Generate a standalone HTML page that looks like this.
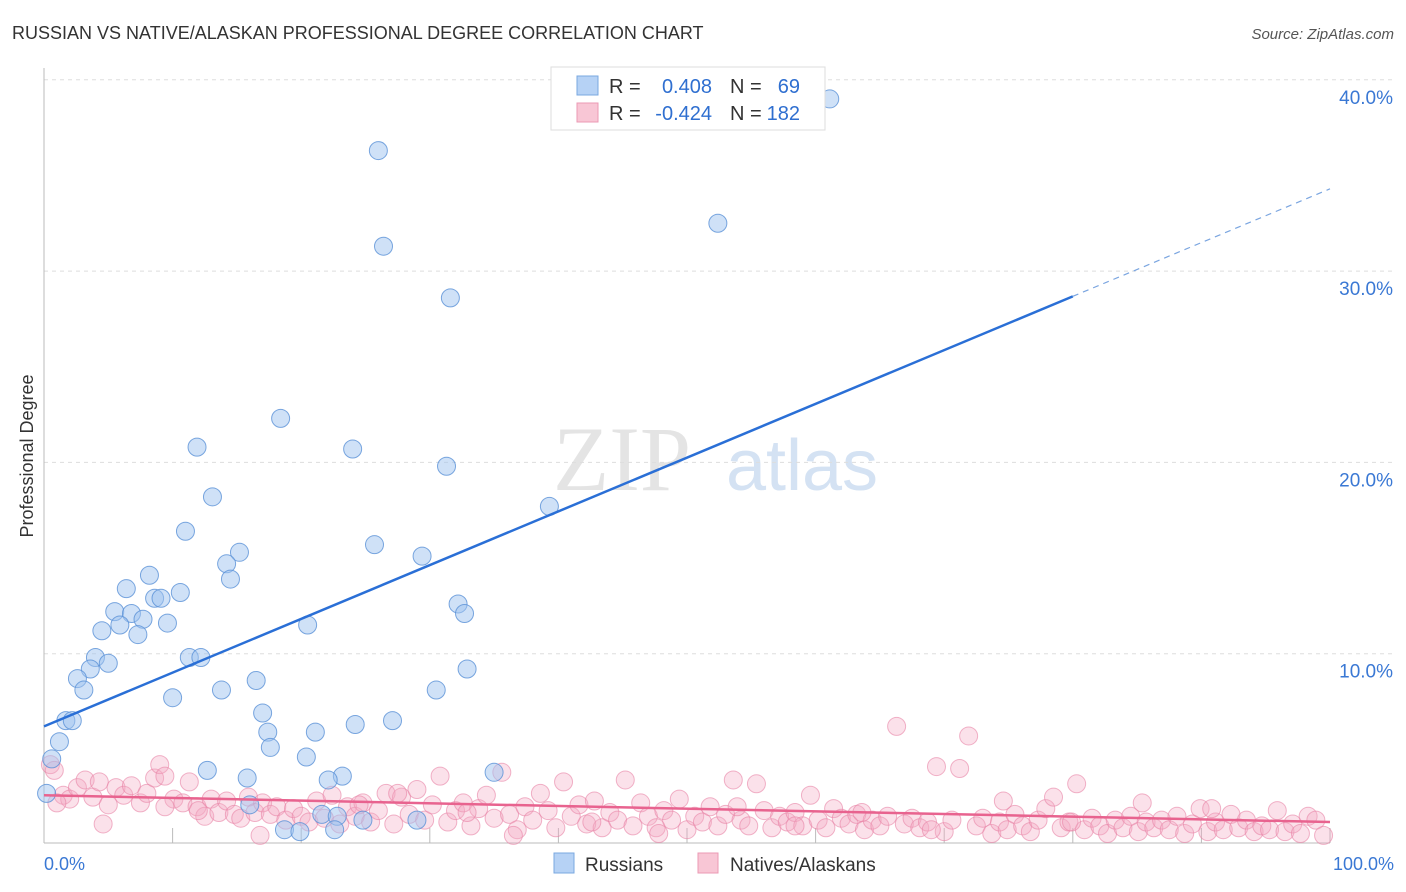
<!DOCTYPE html>
<html><head><meta charset="utf-8"><style>
body{margin:0;background:#fff;font-family:"Liberation Sans",sans-serif;}
#wrap{position:relative;width:1406px;height:892px;overflow:hidden;}
</style></head><body>
<div id="wrap">
<svg id="chart" width="1406" height="892" xmlns="http://www.w3.org/2000/svg">
<text x="12" y="39" font-size="18" fill="#333">RUSSIAN VS NATIVE/ALASKAN PROFESSIONAL DEGREE CORRELATION CHART</text>
<text x="1394" y="39" font-size="15" fill="#555" font-style="italic" text-anchor="end">Source: ZipAtlas.com</text>
<text x="0" y="0" transform="translate(33,456) rotate(-90)" font-size="18" fill="#333" text-anchor="middle">Professional Degree</text>
<g>
<text x="622" y="490" font-size="92" fill="#e4e4e4" font-family="Liberation Serif,serif" text-anchor="middle">ZIP</text>
<text x="802" y="490" font-size="72" fill="#d4e2f3" text-anchor="middle">atlas</text>
</g>
<g id="grid"></g>
<g id="axes"></g>
<g id="pinkPts"></g>
<g id="bluePts"></g>
<g id="lines"></g>
<g>
<rect x="551" y="67" width="274" height="63" fill="#fff" stroke="#ddd"/>
<rect x="577" y="76" width="21" height="19" fill="#b6d2f5" stroke="#7aa8e0"/>
<rect x="577" y="103" width="21" height="19" fill="#f8c6d5" stroke="#eb9ab4"/>
<text x="609" y="93" font-size="20" fill="#333">R =</text>
<text x="712" y="93" font-size="20" fill="#2f6fd0" text-anchor="end">0.408</text>
<text x="730" y="93" font-size="20" fill="#333">N =</text>
<text x="800" y="93" font-size="20" fill="#2f6fd0" text-anchor="end">69</text>
<text x="609" y="120" font-size="20" fill="#333">R =</text>
<text x="712" y="120" font-size="20" fill="#2f6fd0" text-anchor="end">-0.424</text>
<text x="730" y="120" font-size="20" fill="#333">N =</text>
<text x="800" y="120" font-size="20" fill="#2f6fd0" text-anchor="end">182</text>
</g>
<g>
<rect x="554" y="853" width="20" height="20" fill="#b6d2f5" stroke="#7aa8e0"/>
<text x="585" y="871" font-size="19" fill="#333">Russians</text>
<rect x="698" y="853" width="20" height="20" fill="#f8c6d5" stroke="#eb9ab4"/>
<text x="730" y="871" font-size="19" fill="#333">Natives/Alaskans</text>
</g>
</svg>
</div>
<script>
const yTicks=[10,20,30,40];
const yTickLabels=["10.0%","20.0%","30.0%","40.0%"];
const xLabels=["0.0%","100.0%"];
const blueX=[61.1,26.0,26.4,52.4,31.6,18.4,11.9,24.0,31.3,13.1,39.3,11.0,25.7,15.2,29.4,14.2,8.2,14.5,6.4,10.6,8.6,9.1,32.2,5.5,6.8,32.7,7.7,5.9,9.6,20.5,4.5,7.3,4.0,11.3,12.2,5.0,3.6,32.9,2.6,16.5,3.1,13.8,30.5,10.0,17.0,1.7,2.2,27.1,24.2,21.1,17.4,1.2,17.6,20.4,0.6,12.7,23.2,15.8,22.1,35.0,0.2,16.0,21.6,22.8,24.8,29.0,18.7,19.9,22.6];
const blueY=[39.0,36.3,31.3,32.5,28.6,22.3,20.8,20.7,19.8,18.2,17.7,16.4,15.7,15.3,15.1,14.7,14.1,13.9,13.4,13.2,12.9,12.9,12.6,12.2,12.1,12.1,11.8,11.5,11.6,11.5,11.2,11.0,9.8,9.8,9.8,9.5,9.2,9.2,8.7,8.6,8.1,8.1,8.1,7.7,6.9,6.5,6.5,6.5,6.3,5.9,5.9,5.4,5.1,4.6,4.5,3.9,3.6,3.5,3.4,3.8,2.7,2.1,1.6,1.5,1.3,1.3,0.8,0.7,0.8];
const pinkX=[0.5,0.8,1.5,2.0,2.6,3.2,3.8,4.3,5.0,5.6,6.2,6.8,7.5,8.0,8.6,9.0,9.4,10.1,10.8,11.3,11.9,12.5,13.0,13.6,14.2,14.8,15.3,15.9,16.4,17.0,17.6,18.1,18.8,19.4,20.0,20.6,21.2,21.8,22.4,23.0,23.6,24.2,24.8,25.4,26.0,26.6,27.2,27.8,28.4,29.0,29.6,30.2,30.8,31.4,32.0,32.6,33.2,33.8,34.4,35.0,35.6,36.2,36.8,37.4,38.0,38.6,39.2,39.8,40.4,41.0,41.6,42.2,42.8,43.4,44.0,44.6,45.2,45.8,46.4,47.0,47.6,48.2,48.8,49.4,50.0,50.6,51.2,51.8,52.4,53.0,53.6,54.2,54.8,55.4,56.0,56.6,57.2,57.8,58.4,59.0,59.6,60.2,60.8,61.4,62.0,62.6,63.2,63.8,64.4,65.0,65.6,66.3,66.9,67.5,68.1,68.7,69.4,70.0,70.6,71.2,71.9,72.5,73.0,73.7,74.3,74.9,75.5,76.1,76.7,77.3,77.9,78.5,79.1,79.7,80.3,80.9,81.5,82.1,82.7,83.3,83.9,84.5,85.1,85.7,86.3,86.9,87.5,88.1,88.7,89.3,89.9,90.5,91.1,91.7,92.3,92.9,93.5,94.1,94.7,95.3,95.9,96.5,97.1,97.7,98.3,98.9,99.5,1.0,4.6,9.4,12.0,16.8,24.5,27.5,32.9,36.5,42.6,47.8,53.9,58.4,63.6,69.0,74.6,79.9,85.4,90.8,96.0];
const pinkY=[4.2,3.9,2.6,2.4,3.0,3.4,2.5,3.3,2.1,3.0,2.6,3.1,2.2,2.7,3.5,4.2,3.6,2.4,2.2,3.3,2.0,1.5,2.4,1.7,2.3,1.6,1.4,2.5,1.7,2.2,1.6,2.0,1.3,1.9,1.5,1.2,2.3,1.4,2.6,1.1,2.0,1.5,2.2,1.2,1.8,2.7,1.1,2.5,1.6,2.9,1.3,2.1,3.6,1.2,1.8,2.2,1.0,1.9,2.6,1.4,3.8,1.6,0.8,2.0,1.3,2.7,1.8,0.9,3.3,1.5,2.1,1.1,2.3,0.9,1.7,1.3,3.4,1.0,2.2,1.5,0.9,1.8,1.3,2.4,0.8,1.5,1.2,2.0,1.0,1.6,3.4,1.3,1.0,3.2,1.8,0.9,1.5,1.2,1.7,1.0,2.6,1.3,0.9,1.9,1.4,1.1,1.6,0.8,1.3,1.0,1.5,6.2,1.1,1.4,0.9,1.2,4.1,0.7,1.3,4.0,5.7,1.0,1.4,0.6,1.2,0.8,1.6,1.0,0.7,1.3,1.9,2.5,0.9,1.2,3.2,0.8,1.4,1.0,0.6,1.3,0.9,1.5,0.7,1.2,0.9,1.3,0.8,1.5,0.6,1.1,1.9,0.7,1.2,0.8,1.6,0.9,1.3,0.7,1.0,0.8,1.8,0.7,1.1,0.6,1.5,1.3,0.5,2.2,1.1,2.0,1.8,0.5,2.1,2.7,1.7,0.5,1.2,0.6,2.0,1.0,1.7,0.8,2.3,1.2,2.2,1.9];
const blueLine=[6.2,34.3];
const pinkLine=[2.6,1.2];
const blueSolidEnd=80;

const L=44,R=1330,B=845,PY=19.13;
const sx=v=>L+(R-L)*v/100;
const sy=v=>B-v*PY;
const NS="http://www.w3.org/2000/svg";
function mk(tag,attrs,parent){const e=document.createElementNS(NS,tag);for(const k in attrs)e.setAttribute(k,attrs[k]);parent.appendChild(e);return e;}
const grid=document.getElementById('grid'),axes=document.getElementById('axes');
yTicks.forEach((t,i)=>{
  const g=mk('line',{x1:L,x2:1394,y1:sy(t),y2:sy(t),stroke:'#ddd','stroke-dasharray':'4,4'},grid);
  
  
  const tx=mk('text',{x:1393,y:sy(t)+24,'font-size':19,fill:'#3a78d4','text-anchor':'end'},axes);
  tx.textContent=yTickLabels[i];
  
  
});
const xa=mk('line',{x1:L,x2:R,y1:843,y2:843,stroke:'#bbb'},axes);


const ya=mk('line',{x1:L,x2:L,y1:68,y2:843,stroke:'#bbb'},axes);


for(let i=1;i<=10;i++){
  const tk=mk('line',{x1:sx(i*10),x2:sx(i*10),y1:828,y2:843,stroke:'#bbb'},axes);
  
  
}
const xl0=mk('text',{x:44,y:870,'font-size':18,fill:'#3a78d4'},axes);xl0.textContent=xLabels[0];


const xl1=mk('text',{x:1394,y:870,'font-size':18,fill:'#3a78d4','text-anchor':'end'},axes);xl1.textContent=xLabels[1];


const pg=document.getElementById('pinkPts');
const nP=Math.min(pinkX.length,pinkY.length);
pinkX.slice(0,nP).forEach((x,i)=>{
  const c=mk('circle',{cx:sx(x),cy:sy(pinkY[i]),r:9,fill:'rgba(244,170,196,0.35)',stroke:'rgba(232,130,165,0.6)','stroke-width':1},pg);
  
  
});
const bg=document.getElementById('bluePts');
blueX.forEach((x,i)=>{
  const c=mk('circle',{cx:sx(x),cy:sy(blueY[i]),r:9,fill:'rgba(160,196,240,0.5)',stroke:'rgba(90,145,215,0.8)','stroke-width':1},bg);
  
  
});
const lg=document.getElementById('lines');
const bAt=v=>blueLine[0]+(blueLine[1]-blueLine[0])*v/100;
const bl=mk('line',{x1:sx(0),y1:sy(bAt(0)),x2:sx(blueSolidEnd),y2:sy(bAt(blueSolidEnd)),stroke:'#2a6fd6','stroke-width':2.5},lg);


const bd=mk('line',{x1:sx(blueSolidEnd),y1:sy(bAt(blueSolidEnd)),x2:sx(100),y2:sy(bAt(100)),stroke:'#7aa5e0','stroke-width':1.2,'stroke-dasharray':'6,5'},lg);


const pl=mk('line',{x1:sx(0),y1:sy(pinkLine[0]),x2:sx(100),y2:sy(pinkLine[1]),stroke:'#e8638f','stroke-width':2.5},lg);


</script>
</body></html>
